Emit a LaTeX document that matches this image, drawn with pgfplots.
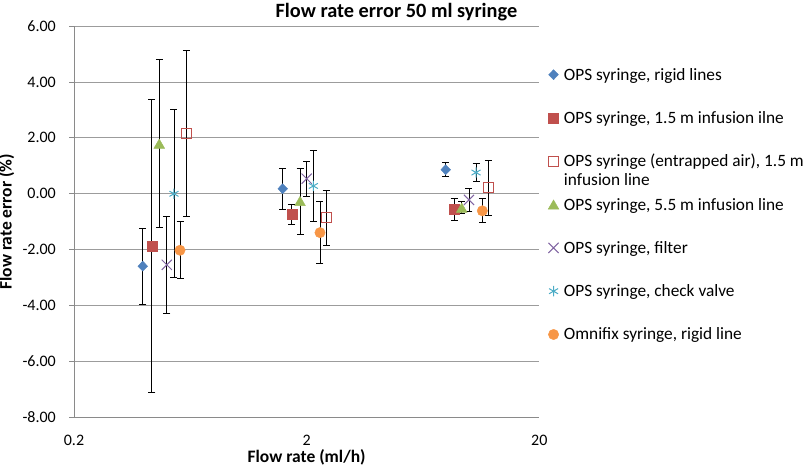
\documentclass[border=0pt]{standalone}
\usepackage{pgfplots}
\pgfplotsset{compat=1.18}
\usepackage{fontspec}
\setmainfont{Carlito}
\definecolor{cblue}{HTML}{4F81BD}
\definecolor{cred}{HTML}{C0504D}
\definecolor{cgreen}{HTML}{9BBB59}
\definecolor{cpurple}{HTML}{8064A2}
\definecolor{ccyan}{HTML}{4BACC6}
\definecolor{corange}{HTML}{F79646}
\definecolor{gridc}{HTML}{9C9C9C}
\definecolor{axisc}{HTML}{8A8A8A}
\begin{document}
\begin{tikzpicture}
\path[use as bounding box] (-74pt,-52.5pt) rectangle (731pt,417.5pt);
\begin{axis}[
  scale only axis,
  width=465.3pt, height=391.5pt,
  xmode=log, log basis x=10,
  xmin=0.2, xmax=20, ymin=-8, ymax=6,
  xtick={0.2,2,20}, xticklabels={0.2,2,20},
  ytick={-8,-6,-4,-2,0,2,4,6},
  minor xtick={},
  axis x line*=bottom, axis y line*=left,
  axis line style={axisc, line width=0.8pt, -},
  tick style={axisc, line width=0.8pt},
  x tick style={draw=none},
  major tick length=5pt,
  tick pos=left,
  tick align=outside,
  ymajorgrids, grid style={gridc, line width=0.8pt},
  tick label style={font=\fontsize{16}{19}\selectfont, text=black},
  yticklabel style={font=\fontsize{16}{19}\selectfont, text=black, /pgf/number format/fixed, /pgf/number format/fixed zerofill, /pgf/number format/precision=2, /pgf/number format/assume math mode=true, anchor=east, inner sep=0pt, xshift=-13pt},
  xticklabel style={font=\fontsize{16}{19}\selectfont, text=black, anchor=base, inner sep=0pt, yshift=-23.2pt},
  every axis title shift=0pt,
  title={\fontsize{20.3}{24}\selectfont\bfseries Flow rate error 50 ml syringe},
  title style={at={(axis description cs:0.693,1.0345)}, anchor=center, inner sep=0pt},
  xlabel={\fontsize{17.5}{20}\selectfont\bfseries Flow rate (ml/h)},
  xlabel style={at={(axis description cs:0.5,-0.1144)}, anchor=base, inner sep=0pt},
  ylabel={\fontsize{17.5}{20}\selectfont\bfseries Flow rate error (\%)},
  ylabel style={at={(axis description cs:-0.134,0.5)}, anchor=base, inner sep=0pt},
  clip=false,
  legend style={at={(axis description cs:1.0122,0.8991)}, anchor=north west, draw=none, fill=none,
    font=\fontsize{17.3}{20}\selectfont, row sep=26.8pt, column sep=5pt,
    nodes={inner sep=0pt, text height=12.5pt, text depth=4pt, anchor=base west}},
  legend cell align=left,
  legend image code/.code={\draw[#1] plot coordinates {(0pt,5.5pt)};},
  error bars/y dir=both, error bars/y explicit,
  error bars/error bar style={black, line width=0.8pt},
  error bars/error mark options={rotate=90, black, mark size=3.5pt, line width=0.8pt},
]
\addplot[only marks, mark=diamond*, mark size=5pt, mark options={xscale=1.3, fill=cblue, draw=cblue}]
 table[x=x, y=y, y error=e] {
x y e
0.395 -2.59 1.36
1.578 0.18 0.73
7.92 0.86 0.25
};
\addlegendentry{OPS syringe, rigid lines}
\addplot[only marks, mark=square*, mark size=5pt, mark options={fill=cred, draw=cred}]
 table[x=x, y=y, y error=e] {
x y e
0.432 -1.87 5.23
1.725 -0.73 0.35
8.60 -0.56 0.38
};
\addlegendentry{OPS syringe, 1.5 m infusion ilne}
\addplot[only marks, mark=square, mark size=5pt, mark options={fill=white, draw=cred, line width=0.9pt}]
 table[x=x, y=y, y error=e] {
x y e
0.608 2.16 2.98
2.422 -0.86 0.97
12.07 0.21 0.98
};
\addlegendentry{\parbox[t]{240pt}{OPS syringe (entrapped air), 1.5 m\\[-1pt]infusion line}}
\addplot[only marks, mark=triangle*, mark size=6.2pt, mark options={fill=cgreen, draw=cgreen, yshift=-1.5pt}]
 table[x=x, y=y, y error=e] {
x y e
0.465 1.79 3.00
1.873 -0.26 1.18
9.28 -0.50 0.21
};
\addlegendentry{OPS syringe, 5.5 m infusion line}
\addplot[only marks, mark=x, mark size=7.2pt, mark options={draw=cpurple, line width=1pt}]
 table[x=x, y=y, y error=e] {
x y e
0.501 -2.54 1.72
2.001 0.54 0.62
9.97 -0.22 0.42
};
\addlegendentry{OPS syringe, filter}
\addplot[only marks, mark=asterisk, mark size=5.2pt, mark options={draw=ccyan, line width=1pt}]
 table[x=x, y=y, y error=e] {
x y e
0.538 0.00 3.00
2.137 0.28 1.26
10.69 0.76 0.31
};
\addlegendentry{OPS syringe, check valve}
\addplot[only marks, mark=*, mark size=5.2pt, mark options={fill=corange, draw=corange}]
 table[x=x, y=y, y error=e] {
x y e
0.571 -2.02 1.02
2.282 -1.39 1.11
11.38 -0.61 0.43
};
\addlegendentry{Omnifix syringe, rigid line}
\end{axis}
\end{tikzpicture}
\end{document}
